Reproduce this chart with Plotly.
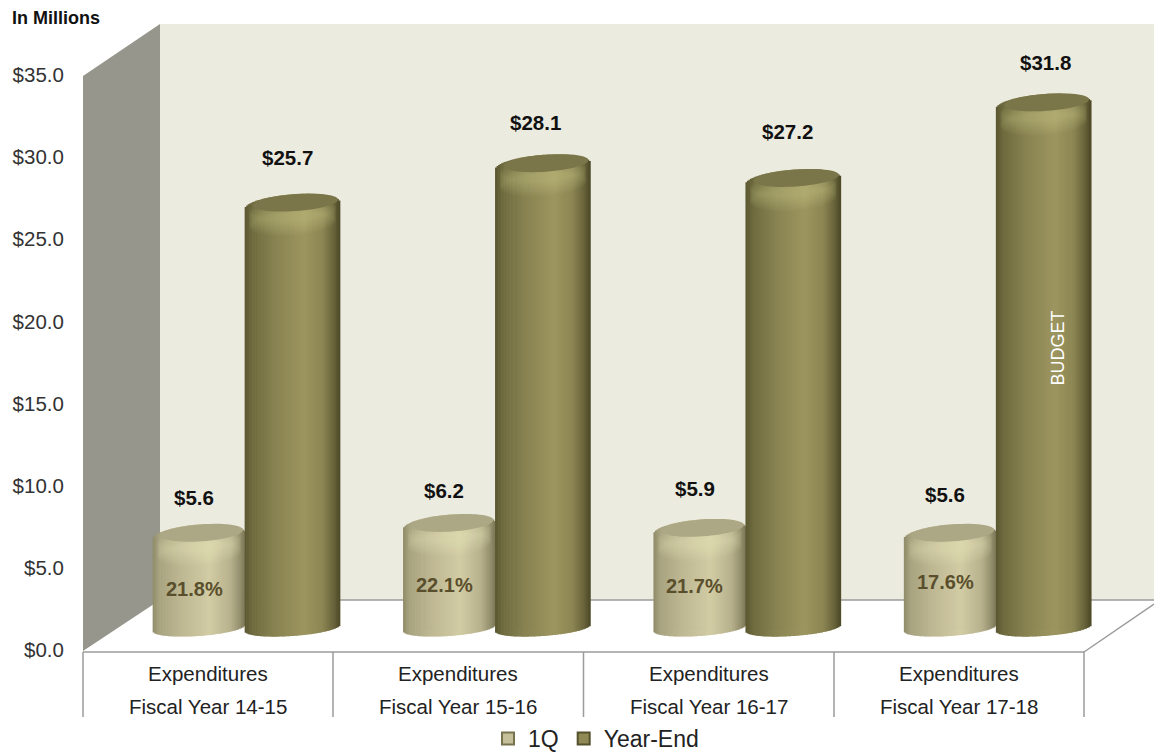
import numpy as np
import plotly.graph_objects as go

# ---------- data ----------
groups_top = ["Expenditures"] * 4
groups_bottom = ["Fiscal Year 14-15", "Fiscal Year 15-16", "Fiscal Year 16-17", "Fiscal Year 17-18"]
q1_values = [5.6, 6.2, 5.9, 5.6]
year_end_values = [25.7, 28.1, 27.2, 31.8]
q1_percent = ["21.8%", "22.1%", "21.7%", "17.6%"]
y_ticks = [0, 5, 10, 15, 20, 25, 30, 35]
y_tick_text = ["$0.0", "$5.0", "$10.0", "$15.0", "$20.0", "$25.0", "$30.0", "$35.0"]

# ---------- canvas helpers ----------
W, H = 1154, 754
PX_Y = (650 - 75) / 35          # pixels per $1M
ZERO_BAR = 628                  # pixel row of $0 for the raised (depth-shifted) bars
UNIT_X = 250.4                  # pixels per category on the bar axis
BAR_LEFT = 245 - UNIT_X / 2
px = lambda x: x / W
py = lambda y: 1 - y / H

Q1_STYLE = dict(half=46.0, centre=-46.0,
                stops=[(0, "#8f8a68"), (.07, "#a8a380"), (.3, "#bdb792"), (.62, "#d2cca5"),
                       (.85, "#b6b08c"), (.95, "#938e6c"), (1, "#7c7757")],
                face="#aca784", glow="#fff8cc", main="#c6c09a", edge="#77734f")
YE_STYLE = dict(half=47.5, centre=47.5,
                stops=[(0, "#5a5630"), (.08, "#6f6b3f"), (.3, "#868150"), (.62, "#9d9660"),
                       (.82, "#8b8553"), (.94, "#676239"), (1, "#4c4827")],
                face="#7a764a", glow="#e8e2a0", main="#8f8955", edge="#55512d")
TILT, B_TOP, B_BOT = 0.07, 11.5, 8.0


def mix(stops, t):
    for (t0, c0), (t1, c1) in zip(stops, stops[1:]):
        if t <= t1:
            f = (t - t0) / (t1 - t0)
            a = [int(c0[i:i + 2], 16) for i in (1, 3, 5)]
            b = [int(c1[i:i + 2], 16) for i in (1, 3, 5)]
            return "rgb(%d,%d,%d)" % tuple(round(p + (q - p) * f) for p, q in zip(a, b))
    return stops[-1][1]


def strips(values, st):
    """Thin vertical bars that together shade one cylinder per category."""
    xs, tops, bases, cols = [], [], [], []
    n = int(st["half"] * 2 / 1.5)
    for i, v in enumerate(values):
        for k in range(n):
            t = (k + .5) / n
            dx = (t * 2 - 1) * st["half"]
            root = np.sqrt(max(0, 1 - (dx / st["half"]) ** 2))
            top = v + (TILT * dx + B_TOP * root) / PX_Y
            low = (TILT * dx - B_BOT * root) / PX_Y
            xs.append(i + .5 + (st["centre"] + dx) / UNIT_X)
            tops.append(top - low)
            bases.append(low)
            cols.append(mix(st["stops"], t))
    return go.Bar(x=xs, y=tops, base=bases, width=2.2 / UNIT_X, marker=dict(color=cols, line=dict(width=0)),
                  xaxis="x2", yaxis="y2", showlegend=False, hoverinfo="skip")


def ellipses(values, st, off_y, half_w, half_h, off_x=0):
    xs, ys = [], []
    for i, v in enumerate(values):
        for a in np.linspace(0, 2 * np.pi, 61):
            dx = half_w * np.cos(a) + off_x
            xs.append(i + .5 + (st["centre"] + dx) / UNIT_X)
            ys.append(v + (TILT * dx - half_h * np.sin(a) - off_y) / PX_Y)
        xs.append(None)
        ys.append(None)
    return xs, ys


def caps(values, st):
    out = []
    for d in (18, 16, 14, 12, 10, 8, 6, 4):
        xs, ys = ellipses(values, st, d, st["half"] - 4, B_TOP)
        out.append(go.Scatter(x=xs, y=ys, fill="toself", mode="none", fillcolor=st["glow"], opacity=.045,
                              xaxis="x2", yaxis="y2", showlegend=False, hoverinfo="skip"))
    xs, ys = ellipses(values, st, -3.0, st["half"] - 5, 8.5, 3)
    out.append(go.Scatter(x=xs, y=ys, fill="toself", mode="none", fillcolor=st["face"],
                          xaxis="x2", yaxis="y2", showlegend=False, hoverinfo="skip"))
    return out


def main_bar(name, values, st):
    return go.Bar(name=name, x=[i + .5 + st["centre"] / UNIT_X for i in range(4)], y=values,
                  width=.55 * st["half"] * 2 / UNIT_X,
                  marker=dict(color=st["main"], line=dict(color=st["edge"], width=2)),
                  xaxis="x2", yaxis="y2")


fig = go.Figure()
fig.add_trace(main_bar("1Q", q1_values, Q1_STYLE))
fig.add_trace(main_bar("Year-End", year_end_values, YE_STYLE))
fig.add_trace(strips(q1_values, Q1_STYLE))
fig.add_trace(strips(year_end_values, YE_STYLE))
fig.add_traces(caps(q1_values, Q1_STYLE))
fig.add_traces(caps(year_end_values, YE_STYLE))

# ---------- walls, floor, table rules ----------
def poly(points, fill):
    path = "M " + " L ".join(f"{px(x):.5f},{py(y):.5f}" for x, y in points) + " Z"
    return dict(type="path", path=path, xref="paper", yref="paper", fillcolor=fill,
                line=dict(width=0), layer="below")


def rule(x0, y0, x1, y1):
    return dict(type="line", x0=px(x0), y0=py(y0), x1=px(x1), y1=py(y1), xref="paper", yref="paper",
                line=dict(color="#9b9b9b", width=1.5), layer="below")


shapes = [
    poly([(160, 24), (1154, 24), (1154, 600), (160, 600)], "#ecebdf"),
    poly([(83, 76), (160, 24), (160, 600), (83, 651)], "#96968c"),
    rule(160, 600, 1154, 600),
    rule(83, 652, 1084, 652),
    rule(1084, 652, 1154, 604),
]
shapes += [rule(x, 652, x, 717) for x in (83, 333, 583.5, 834, 1084)]

# ---------- text ----------
ann = [dict(text="<b>In Millions</b>", x=px(10), y=py(18), xref="paper", yref="paper", xanchor="left",
            yanchor="middle", showarrow=False, font=dict(size=18, color="#111111"))]
for i in range(4):
    ann.append(dict(text=groups_top[i], x=i + .5, y=py(673), xref="x", yref="paper", yanchor="middle",
                    showarrow=False, font=dict(size=20.5, color="#222222")))
    ann.append(dict(text=groups_bottom[i], x=i + .5, y=py(706), xref="x", yref="paper", yanchor="middle",
                    showarrow=False, font=dict(size=20.5, color="#222222")))

raise_q1, raise_ye = [39, 36, 43, 42], [48, 44, 50, 43]
shift_ye = [-5, -7, -6, 2]
drop_pct = [7, 8, 6, 0]
for i in range(4):
    ann.append(dict(text=f"<b>${q1_values[i]:.1f}</b>", x=i + .5 + Q1_STYLE["centre"] / UNIT_X, y=q1_values[i],
                    xref="x2", yref="y2", showarrow=False, xshift=-5, yshift=raise_q1[i],
                    font=dict(size=20.5, color="#111111")))
    ann.append(dict(text=f"<b>${year_end_values[i]:.1f}</b>", x=i + .5 + YE_STYLE["centre"] / UNIT_X,
                    y=year_end_values[i], xref="x2", yref="y2", showarrow=False, xshift=shift_ye[i],
                    yshift=raise_ye[i], font=dict(size=20.5, color="#111111")))
    ann.append(dict(text=f"<b>{q1_percent[i]}</b>", x=i + .5 + Q1_STYLE["centre"] / UNIT_X, y=q1_values[i] / 2,
                    xref="x2", yref="y2", showarrow=False, xshift=-5, yshift=-drop_pct[i],
                    font=dict(size=20, color="#5a4f2c")))
ann.append(dict(text="BUDGET", x=3 + .5 + YE_STYLE["centre"] / UNIT_X, y=year_end_values[3] / 2, xref="x2", yref="y2",
                showarrow=False, textangle=-90, xshift=14, yshift=19, font=dict(size=18, color="#ffffff")))

fig.update_layout(
    width=W, height=H, margin=dict(l=0, r=0, t=0, b=0, pad=0, autoexpand=False), autosize=False,
    paper_bgcolor="#ffffff", plot_bgcolor="rgba(0,0,0,0)", barmode="overlay",
    font=dict(family="Liberation Sans, Arial, sans-serif"),
    shapes=shapes, annotations=ann,
    xaxis=dict(domain=[px(83), px(1084)], range=[0, 4], visible=False, fixedrange=True),
    yaxis=dict(domain=[py(650), py(75)], range=[0, 35], tickvals=y_ticks, ticktext=y_tick_text, showgrid=False,
               zeroline=False, showline=False, ticks="outside", ticklen=14, tickcolor="rgba(0,0,0,0)",
               tickfont=dict(size=20.5, color="#333333"), fixedrange=True),
    xaxis2=dict(domain=[px(BAR_LEFT), px(BAR_LEFT + 4 * UNIT_X)], range=[0, 4], anchor="y2", visible=False,
                fixedrange=True),
    yaxis2=dict(domain=[py(ZERO_BAR + 2 * PX_Y), py(ZERO_BAR - 35 * PX_Y)], range=[-2, 35], anchor="x2", visible=False,
                fixedrange=True),
    legend=dict(orientation="h", x=px(596), xanchor="center", y=py(738.5), yanchor="middle",
                bgcolor="rgba(0,0,0,0)", font=dict(size=23, color="#222222")),
)

fig.write_html("out.html", config=dict(displayModeBar=False),
               post_script="document.body.style.margin='0';document.documentElement.style.overflow='hidden';")
